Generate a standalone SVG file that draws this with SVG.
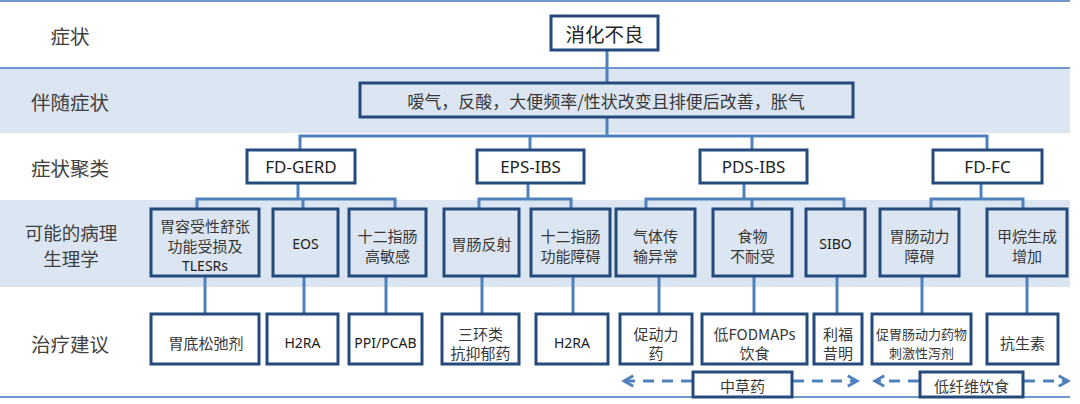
<svg xmlns="http://www.w3.org/2000/svg" width="1080" height="404" viewBox="0 0 1080 404">
<defs>
<style>
.band{fill:#dce6f2}
.hl{stroke:#6f98cf;stroke-width:2;fill:none}
.box{fill:#ffffff;stroke:#254b7d;stroke-width:3}
.boxb{fill:#dce6f2;stroke:#254b7d;stroke-width:3}
.con{stroke:#4f81bd;stroke-width:3;fill:none}
.dash{stroke:#4f81bd;stroke-width:3;fill:none;stroke-dasharray:11 8}
.lab{font-family:"Noto Sans CJK SC","Noto Sans",sans-serif;font-size:19.5px;fill:#404040;text-anchor:middle;dominant-baseline:central}
.t{font-family:"Noto Sans CJK SC","Noto Sans",sans-serif;font-size:15px;fill:#383838;text-anchor:middle;dominant-baseline:central}
.e{font-family:"Noto Sans","Noto Sans CJK SC",sans-serif;font-size:14px;fill:#202020;text-anchor:middle;dominant-baseline:central}
.c{font-family:"Noto Sans","Noto Sans CJK SC",sans-serif;font-size:17px;fill:#202020;text-anchor:middle;dominant-baseline:central}
</style>
<marker id="chev" viewBox="0 0 10 10" refX="8" refY="5" markerWidth="4.4" markerHeight="4.4" orient="auto-start-reverse">
<path d="M1,1 L8,5 L1,9" fill="none" stroke="#4f81bd" stroke-width="2.2"/>
</marker>
</defs>

<g id="background">
<rect class="band" x="0" y="68" width="1070" height="65"/>
<rect class="band" x="0" y="200" width="1070" height="87"/>
<line class="hl" x1="0" y1="1" x2="1070" y2="1"/>
<line class="hl" x1="0" y1="68" x2="1070" y2="68"/>
<line class="hl" x1="0" y1="397" x2="1070" y2="397"/>
</g>

<g id="row-labels">
<text class="lab" x="70" y="35">症状</text>
<text class="lab" x="70" y="101">伴随症状</text>
<text class="lab" x="70" y="167">症状聚类</text>
<text class="lab" x="71" y="232" style="font-size:18.5px">可能的病理</text>
<text class="lab" x="71" y="257.5" style="font-size:18.5px">生理学</text>
<text class="lab" x="70" y="343">治疗建议</text>
</g>

<g id="connectors">
<path class="con" d="M607,50 V83"/>
<path class="con" d="M607,117 V136 M300,150 V136 H987 V150 M530,136 V150 M752,136 V150"/>
<path class="con" d="M298,183 V199 M197,209 V199 H395 V209 M303,199 V209"/>
<path class="con" d="M528,183 V199 M479,209 V199 H571 V209"/>
<path class="con" d="M744,183 V199 M646,209 V199 H844 V209 M752,199 V209"/>
<path class="con" d="M981,183 V199 M931,209 V199 H1023 V209"/>
<path class="con" d="M205,276 V314 M304,276 V314 M386,276 V314 M482,276 V314 M573,276 V314 M659,276 V314 M754,276 V314 M837,276 V314 M922,276 V314 M1027,276 V314"/>
<path class="dash" d="M692,381 H624" marker-end="url(#chev)"/>
<path class="dash" d="M793,381 H857" marker-end="url(#chev)"/>
<path class="dash" d="M919,381 H875" marker-end="url(#chev)"/>
<path class="dash" d="M1024,381 H1068" marker-end="url(#chev)"/>
</g>

<g id="n-dyspepsia">
<rect class="box" x="551" y="16" width="107" height="34"/>
<text class="lab" x="604.5" y="33" style="fill:#262626">消化不良</text>
</g>

<g id="n-accompany">
<rect class="boxb" x="360" y="83" width="493" height="34"/>
<text class="t" x="606" y="100" style="font-size:17px">嗳气，反酸，大便频率/性状改变且排便后改善，胀气</text>
</g>

<g id="n-fd-gerd">
<rect class="box" x="247" y="150" width="108" height="33"/>
<text class="c" x="301" y="166.5">FD-GERD</text>
</g>
<g id="n-eps-ibs">
<rect class="box" x="477" y="150" width="107" height="33"/>
<text class="c" x="530.5" y="166.5">EPS-IBS</text>
</g>
<g id="n-pds-ibs">
<rect class="box" x="700" y="150" width="107" height="33"/>
<text class="c" x="753.5" y="166.5">PDS-IBS</text>
</g>
<g id="n-fd-fc">
<rect class="box" x="933" y="150" width="109" height="33"/>
<text class="c" x="987.5" y="166.5">FD-FC</text>
</g>

<g id="p-accommodation">
<rect class="boxb" x="151" y="209" width="108" height="67"/>
<text class="t" x="205" y="225">胃容受性舒张</text>
<text class="t" x="205" y="245">功能受损及</text>
<text class="e" x="205" y="265">TLESRs</text>
</g>
<g id="p-eos">
<rect class="boxb" x="273" y="209" width="65" height="67"/>
<text class="e" x="305.5" y="243">EOS</text>
</g>
<g id="p-duodenal-hyper">
<rect class="boxb" x="349" y="209" width="77" height="67"/>
<text class="t" x="387.5" y="235">十二指肠</text>
<text class="t" x="387.5" y="255">高敏感</text>
</g>
<g id="p-gi-reflex">
<rect class="boxb" x="444" y="209" width="75" height="67"/>
<text class="t" x="481.5" y="243">胃肠反射</text>
</g>
<g id="p-duodenal-dys">
<rect class="boxb" x="531" y="209" width="79" height="67"/>
<text class="t" x="570.5" y="235">十二指肠</text>
<text class="t" x="570.5" y="255">功能障碍</text>
</g>
<g id="p-gas">
<rect class="boxb" x="616" y="209" width="79" height="67"/>
<text class="t" x="655.5" y="235">气体传</text>
<text class="t" x="655.5" y="255">输异常</text>
</g>
<g id="p-food">
<rect class="boxb" x="713" y="209" width="79" height="67"/>
<text class="t" x="752.5" y="235">食物</text>
<text class="t" x="752.5" y="255">不耐受</text>
</g>
<g id="p-sibo">
<rect class="boxb" x="806" y="209" width="59" height="67"/>
<text class="e" x="835.5" y="243">SIBO</text>
</g>
<g id="p-motility">
<rect class="boxb" x="880" y="209" width="79" height="67"/>
<text class="t" x="919.5" y="235">胃肠动力</text>
<text class="t" x="919.5" y="255">障碍</text>
</g>
<g id="p-methane">
<rect class="boxb" x="987" y="209" width="80" height="67"/>
<text class="t" x="1027" y="235">甲烷生成</text>
<text class="t" x="1027" y="255">增加</text>
</g>

<g id="t-fundic">
<rect class="box" x="151" y="314" width="108" height="50"/>
<text class="t" x="206" y="342">胃底松弛剂</text>
</g>
<g id="t-h2ra-1">
<rect class="box" x="267" y="314" width="71" height="50"/>
<text class="e" x="302.5" y="342">H2RA</text>
</g>
<g id="t-ppi">
<rect class="box" x="349" y="314" width="73" height="50"/>
<text class="e" x="385.5" y="342">PPI/PCAB</text>
</g>
<g id="t-tca">
<rect class="box" x="442" y="314" width="77" height="50"/>
<text class="t" x="480.5" y="333">三环类</text>
<text class="t" x="480.5" y="352">抗抑郁药</text>
</g>
<g id="t-h2ra-2">
<rect class="box" x="536" y="314" width="72" height="50"/>
<text class="e" x="572" y="342">H2RA</text>
</g>
<g id="t-prokinetic">
<rect class="box" x="620" y="314" width="72" height="50"/>
<text class="t" x="656" y="333">促动力</text>
<text class="t" x="656" y="352">药</text>
</g>
<g id="t-fodmap">
<rect class="box" x="702" y="314" width="105" height="50"/>
<text class="t" x="754.5" y="333">低FODMAPs</text>
<text class="t" x="754.5" y="352">饮食</text>
</g>
<g id="t-rifaximin">
<rect class="box" x="814" y="314" width="48" height="50"/>
<text class="t" x="838" y="333">利福</text>
<text class="t" x="838" y="352">昔明</text>
</g>
<g id="t-motility-drugs">
<rect class="box" x="872" y="314" width="99" height="50"/>
<text class="t" x="921.5" y="333" style="font-size:13px">促胃肠动力药物</text>
<text class="t" x="921.5" y="352" style="font-size:13px">刺激性泻剂</text>
</g>
<g id="t-antibiotics">
<rect class="box" x="987" y="314" width="71" height="50"/>
<text class="t" x="1022.5" y="342">抗生素</text>
</g>

<g id="b-herbal">
<rect class="box" x="693" y="372" width="99" height="25"/>
<text class="t" x="742.5" y="385">中草药</text>
</g>
<g id="b-lowfiber">
<rect class="box" x="920" y="372" width="103" height="25"/>
<text class="t" x="971.5" y="385">低纤维饮食</text>
</g>
</svg>
